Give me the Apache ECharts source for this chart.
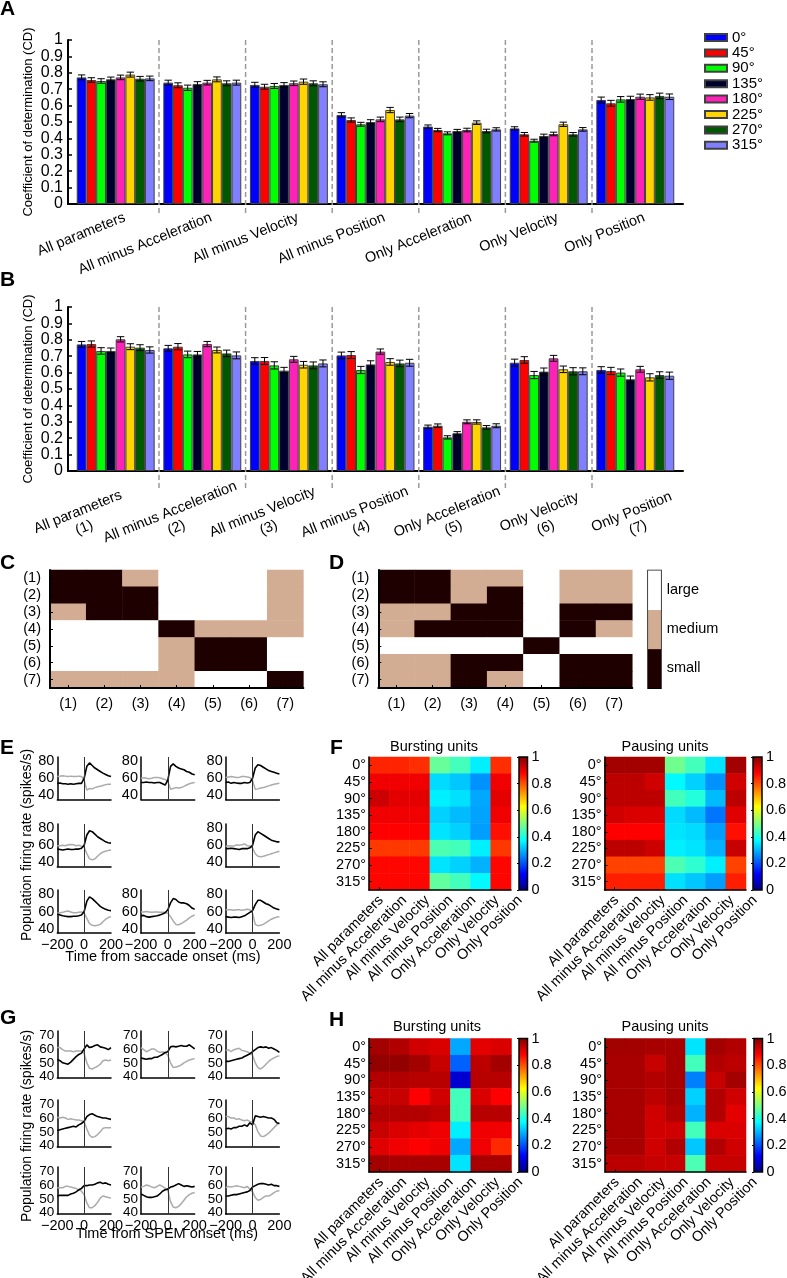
<!DOCTYPE html>
<html>
<head>
<meta charset="utf-8">
<script src="https://cdn.jsdelivr.net/npm/echarts@6.0.0/dist/echarts.min.js"></script>
<style>
html,body{margin:0;padding:0;background:#fff;}
#chart{width:787px;height:1278px;}
</style>
</head>
<body>
<div id="chart"></div>
<script>
// ================= DATA =================
const groupNames = ['All parameters','All minus Acceleration','All minus Velocity','All minus Position','Only Acceleration','Only Velocity','Only Position'];
const groupNums = ['(1)','(2)','(3)','(4)','(5)','(6)','(7)'];
const directions = ['0°','45°','90°','135°','180°','225°','270°','315°'];
const dirColors = ['#0000FF','#FF0000','#00FF00','#00002E','#FF22B8','#FFD400','#005900','#8080FF'];

// Panel A: coefficient of determination, one row per direction, one value per model group
const cdA = [
  [0.772,0.740,0.726,0.543,0.472,0.461,0.634],
  [0.756,0.724,0.715,0.512,0.451,0.425,0.614],
  [0.750,0.709,0.720,0.486,0.431,0.386,0.638],
  [0.760,0.732,0.726,0.500,0.445,0.415,0.640],
  [0.772,0.740,0.736,0.516,0.451,0.427,0.654],
  [0.789,0.760,0.746,0.573,0.496,0.486,0.650],
  [0.764,0.736,0.736,0.516,0.445,0.425,0.659],
  [0.766,0.740,0.730,0.539,0.455,0.455,0.654]
];
const errA = [
  [0.015,0.015,0.016,0.014,0.010,0.010,0.018],
  [0.014,0.015,0.015,0.013,0.010,0.011,0.018],
  [0.014,0.016,0.015,0.012,0.009,0.009,0.017],
  [0.014,0.014,0.014,0.014,0.010,0.011,0.017],
  [0.014,0.014,0.014,0.014,0.011,0.011,0.016],
  [0.015,0.015,0.016,0.016,0.011,0.013,0.017],
  [0.014,0.015,0.015,0.014,0.011,0.011,0.017],
  [0.014,0.015,0.015,0.013,0.010,0.011,0.017]
];
// Panel B
const cdB = [
  [0.772,0.748,0.671,0.705,0.270,0.660,0.616],
  [0.774,0.758,0.671,0.707,0.276,0.677,0.610],
  [0.732,0.711,0.644,0.616,0.205,0.585,0.600],
  [0.732,0.711,0.612,0.650,0.230,0.606,0.559],
  [0.803,0.774,0.681,0.728,0.300,0.687,0.620],
  [0.758,0.738,0.648,0.665,0.299,0.620,0.571],
  [0.752,0.717,0.644,0.656,0.266,0.608,0.585],
  [0.738,0.705,0.656,0.660,0.276,0.608,0.581]
];
const errB = [
  [0.018,0.018,0.020,0.020,0.010,0.022,0.020],
  [0.019,0.019,0.021,0.021,0.011,0.020,0.022],
  [0.020,0.020,0.022,0.022,0.010,0.022,0.022],
  [0.018,0.018,0.020,0.022,0.010,0.022,0.020],
  [0.016,0.016,0.018,0.016,0.012,0.018,0.018],
  [0.018,0.018,0.020,0.020,0.013,0.020,0.022],
  [0.018,0.020,0.021,0.020,0.011,0.022,0.020],
  [0.019,0.021,0.021,0.021,0.012,0.021,0.022]
];

// Panels C / D : effect size matrices (S = small, M = medium, L = large)
const effectC = [
  ['S','S','M','L','L','L','M'],
  ['S','S','S','L','L','L','M'],
  ['M','S','S','L','L','L','M'],
  ['L','L','L','S','M','M','M'],
  ['L','L','L','M','S','S','L'],
  ['L','L','L','M','S','S','L'],
  ['M','M','M','M','L','L','S']
];
const effectD = [
  ['S','S','M','M','L','M','M'],
  ['S','S','M','S','L','M','M'],
  ['M','M','S','S','L','S','S'],
  ['M','S','S','S','L','S','M'],
  ['L','L','L','L','S','L','L'],
  ['M','M','S','S','L','S','S'],
  ['M','M','S','M','L','S','S']
];
const effectLevels = ['small','medium','large'];
const effectColors = ['#1E0000','#D2AC93','#FFFFFF'];

// Panels E / G : population firing rates
const T = [-200,-180,-160,-140,-120,-100,-80,-60,-40,-20,0,20,40,60,80,100,120,140,160,180,200];
const eBlack = [
  [54,54.5,53.5,53.5,53,53.5,53,53.5,54,54,60,74,78,75,72,70,68,66,64.5,63,62],
  [55,55,55.5,55,55,54.5,55,55,53.5,52,58,74,77,74,72,71,70,68,67,65,64],
  [55,55.5,54,55,54.5,54,54,55,54.5,55,60,72,76,75,73,71,69,68,67,66,65],
  [55.5,55,54.5,55,55.5,55,55,55.5,55.5,56.5,60,72,77,76,73,70,68,66,64,63,62.5],
  [56,56,56.5,56,55.5,55,56,56,56,57,60,72,76,74,72,70,68,66,65,64,64],
  [57,56,55,54.5,54,54,54.5,54.5,55,56,60,72,77,75,72,69,66,64,62.5,61.5,61],
  [55,55.5,54,53.5,54,54.5,55,56,57,58.5,62,70,75,74,71,70,70,69,67,64,62.5],
  [54,53.5,53,53.5,53.5,53,54,55,57,59,61,68,73,73,71,69,68,66,64,63,62]
];
const eGray = [
  [62,62.5,63,62.5,62,62.5,62,62,62.5,62,58,46,48,47.5,49,50,50.5,51.5,52.5,53,53],
  [60,60.5,60,59.5,60,61,61,60.5,59.5,58.5,56,47,48,49,48.5,49,50.5,52,53.5,54.5,55],
  [61,61.5,62,61.5,61,61,62,62,61.5,61,57,47,47.5,48.5,49,50,51,52,53,53.5,54],
  [59.5,59.5,60,59.5,60.5,61,60.5,59.5,60,59,58,50,44,43,44,47,50,52,53,54,54],
  [58.5,59.5,59,59,60.5,60,60.5,61.5,59.5,59,57,50,47,46.5,47,48,49,50,51,52,53],
  [58,58.5,59,60,60.5,59.5,58.5,58.5,59,59.5,58,52,46,44,43.5,44,45,48,51,53,54],
  [59.5,59.5,60,59.5,59,59.5,59.5,59,59,59,58,54,49,45,44.5,46,48,50,52.5,54.5,56],
  [62,62,62,61.5,62,62,61.5,62,62.5,62,58,45,43.5,44,45,47,49,51,52.5,53.5,54]
];
const gBlack = [
  [52.5,51.5,50,49.5,49,50.5,52.5,54.5,56,57,60,63,61,61.5,62.5,63,61.5,61,60.5,59.5,61],
  [53.5,53,52.5,53,53,54,54,55,56,57.5,58,61.5,62,61.5,62,62.5,62,62,63,61.5,60],
  [51,51,51.5,52,52.5,53,53.5,54.5,55.5,56.5,58,59.5,61,61.5,61,61.5,60.5,61,60,59,57.5],
  [51,51.5,52,52.5,53,53.5,54,53.5,55,56,57.5,61,62.5,63,62,61,60.5,60,60,59.5,59],
  [52,52.5,52,53,53,54,54,55,54,56.5,55,61.5,61,60.5,61,60.5,60,60,59,56.5,56],
  [52,52.5,52.5,52.5,52.5,53.5,54,55,56.5,57.5,59.5,59.5,60,60,60.5,61.5,62,61,61.5,60.5,60],
  [53.5,52.5,51.5,51,51,51.5,52,53.5,55.5,56.5,57,58.5,59,60,61,60,59,59.5,59,58.5,59],
  [52,52,52.5,53,53,53.5,54,54.5,55,56,58.5,59.5,60.5,61,61,60.5,60,60.5,59.5,59.5,59]
];
const gGray = [
  [61,61,59.5,58.5,58.5,58.5,58,58.5,58.5,58.5,56.5,50,46,45.5,46.5,47.5,49,51.5,52,51.5,52],
  [61,59.5,58,59,60,60,58.5,57.5,58,57,55.5,50,46.5,47,47.5,48.5,50,51,52,52.5,53],
  [59,59.5,58,59.5,60,60.5,59,58.5,58,57,55.5,50,46.5,45.5,47,49,51,52.5,53.5,54.5,55],
  [60.5,60,60.5,60,59,59.5,59,58.5,58.5,58,57.5,52,47.5,46,46.5,48,50,52.5,53,53,53],
  [61,61,60,60,59,59.5,58.5,58,58.5,57.5,57,55,50,47,46.5,47.5,49,51,53,55,56.5],
  [58,58,58,59,59,58.5,58,57.5,56.5,55.5,53,47,43.5,43.5,45,47.5,50.5,52,51.5,51,50.5],
  [58.5,59,60,59.5,58.5,58,59,60,59,57.5,56,48,44,43.5,44.5,46.5,49,51.5,53,54,54.5],
  [58,59,58.5,59,59.5,59,58.5,58,59,57,55,51,49,49.5,51,52,52,53,54.5,55.5,56]
];

// Panels F / H : CD heat maps (rows = directions, columns = model groups)
const fBurst = [
  [0.84,0.84,0.83,0.475,0.44,0.36,0.83],
  [0.89,0.89,0.89,0.34,0.32,0.27,0.89],
  [0.925,0.90,0.90,0.36,0.345,0.29,0.90],
  [0.89,0.89,0.89,0.33,0.31,0.285,0.89],
  [0.875,0.875,0.875,0.35,0.33,0.28,0.86],
  [0.82,0.82,0.82,0.45,0.44,0.36,0.82],
  [0.87,0.87,0.87,0.35,0.33,0.30,0.87],
  [0.87,0.87,0.87,0.47,0.44,0.37,0.87]
];
const fPause = [
  [0.965,0.965,0.965,0.485,0.44,0.35,0.965],
  [0.94,0.94,0.92,0.37,0.33,0.27,0.92],
  [0.94,0.94,0.94,0.44,0.41,0.31,0.94],
  [0.92,0.91,0.91,0.34,0.31,0.24,0.905],
  [0.875,0.875,0.875,0.35,0.34,0.28,0.86],
  [0.94,0.94,0.925,0.36,0.35,0.30,0.93],
  [0.81,0.81,0.81,0.45,0.42,0.36,0.81],
  [0.845,0.845,0.845,0.345,0.32,0.28,0.845]
];
const hBurst = [
  [0.965,0.95,0.92,0.91,0.29,0.90,0.91],
  [0.98,0.98,0.965,0.93,0.22,0.94,0.965],
  [0.95,0.95,0.945,0.945,0.08,0.945,0.945],
  [0.93,0.93,0.875,0.92,0.44,0.91,0.875],
  [0.95,0.95,0.95,0.94,0.44,0.945,0.945],
  [0.93,0.91,0.90,0.89,0.36,0.89,0.89],
  [0.905,0.89,0.875,0.89,0.29,0.89,0.835],
  [0.965,0.96,0.96,0.96,0.35,0.96,0.96]
];
const hPause = [
  [0.965,0.965,0.96,0.96,0.35,0.965,0.95],
  [0.96,0.96,0.93,0.96,0.44,0.95,0.94],
  [0.96,0.96,0.95,0.96,0.25,0.93,0.965],
  [0.96,0.96,0.94,0.96,0.33,0.95,0.92],
  [0.96,0.96,0.92,0.95,0.30,0.95,0.90],
  [0.96,0.96,0.92,0.92,0.44,0.91,0.91],
  [0.96,0.96,0.92,0.95,0.32,0.95,0.92],
  [0.94,0.94,0.93,0.93,0.45,0.93,0.93]
];
const jetColors = ['#00007F','#0000FF','#007FFF','#00FFFF','#7FFF7F','#FFFF00','#FF7F00','#FF0000','#7F0000'];
const colorbarTicks = [0,0.2,0.4,0.6,0.8,1];

// ================= BUILD =================
const FONT = "'Liberation Sans', Arial, Helvetica, sans-serif";
const grids = [], xAxes = [], yAxes = [], series = [], graphics = [];
const heatIdx = [], effIdx = [];
function addGrid(o){ grids.push(Object.assign({show:false, outerBoundsMode:'none'}, o)); return grids.length - 1; }
function addX(o){ xAxes.push(o); return xAxes.length - 1; }
function addY(o){ yAxes.push(o); return yAxes.length - 1; }
const axLine = (w) => ({show:true, onZero:false, lineStyle:{color:'#000', width:w}});
const lbl = (o) => Object.assign({color:'#000', fontSize:14, fontFamily:FONT, showMinLabel:true, showMaxLabel:true, hideOverlap:false}, o);
const textStyle = (t, size, align) => ({text:t, font:size + 'px ' + FONT, fill:'#000', align:align, textAlign:align, verticalAlign:'middle', textVerticalAlign:'middle'});
function txt(x, y, text, o){
  o = o || {};
  const st = textStyle(text, o.size || 14, o.align || 'center');
  if (o.bold) st.font = 'bold ' + (o.size || 14) + 'px ' + FONT;
  graphics.push({type:'text', x:x, y:y, rotation:o.rot || 0, z:100, silent:true, style:st});
}
const ROT22 = 22 * Math.PI / 180;
const ROT45 = 45 * Math.PI / 180;

function barPanel(top, vals, errs, dividerExt, twoLine){
  const H = 164;
  const gF = addGrid({left:68, top:top, width:615, height:H});
  addX({gridIndex:gF, type:'value', min:0, max:1, axisLine:axLine(2), axisTick:{show:false}, axisLabel:{show:false}, splitLine:{show:false}});
  addY({gridIndex:gF, type:'value', min:0, max:1, interval:0.1, axisLine:axLine(2),
    axisTick:{show:true, inside:true, length:4, lineStyle:{color:'#000', width:1.5}},
    axisLabel:lbl({fontSize:16, margin:5, lineHeight:14}), splitLine:{show:false}});
  const gB = addGrid({left:72.4, top:top, width:606.2, height:H});
  const xi = addX({gridIndex:gB, type:'category', data:groupNames, show:false});
  const yi = addY({gridIndex:gB, type:'value', min:0, max:1, show:false});
  vals.forEach((arr, s) => {
    series.push({type:'bar', name:directions[s], xAxisIndex:xi, yAxisIndex:yi, data:arr,
      barGap:'0%', barCategoryGap:'10%', silent:true,
      itemStyle:{color:dirColors[s], borderColor:'#404040', borderWidth:1}});
  });
  const nS = vals.length;
  const errData = [];
  vals.forEach((arr, s) => arr.forEach((v, g) => errData.push([g, s, v, errs[s][g]])));
  series.push({type:'custom', xAxisIndex:xi, yAxisIndex:yi, data:errData, encode:{x:0, y:2}, z:5, silent:true,
    renderItem:function(params, api){
      const g = api.value(0), s = api.value(1), v = api.value(2), e = api.value(3);
      const band = api.size([1, 0])[0];
      const bw = band * 0.9 / nS;
      const c = api.coord([g, v]);
      const x = c[0] - band * 0.45 + (s + 0.5) * bw;
      const yt = api.coord([g, v + e])[1], yb = api.coord([g, v - e])[1];
      const cap = bw * 0.38;
      const st = {stroke:'#000', lineWidth:1};
      return {type:'group', children:[
        {type:'line', shape:{x1:x, y1:yt, x2:x, y2:yb}, style:st},
        {type:'line', shape:{x1:x - cap, y1:yt, x2:x + cap, y2:yt}, style:st},
        {type:'line', shape:{x1:x - cap, y1:yb, x2:x + cap, y2:yb}, style:st}
      ]};
    }});
  // dashed group separators
  const sepData = groupNames.slice(0, -1).map((_, i) => [i, 0]);
  series.push({type:'custom', xAxisIndex:xi, yAxisIndex:yi, data:sepData, encode:{x:0, y:1}, z:1, silent:true, clip:false,
    renderItem:function(params, api){
      const i = params.dataIndex;
      const x = (api.coord([i, 0])[0] + api.coord([i + 1, 0])[0]) / 2;
      const yTop = api.coord([i, 1])[1], yBot = api.coord([i, 0])[1] + dividerExt;
      return {type:'line', shape:{x1:x, y1:yTop, x2:x, y2:yBot}, style:{stroke:'#9a9a9a', lineWidth:1.5, lineDash:[5, 3]}};
    }});
  // category labels
  const labData = groupNames.map((_, i) => [i, 0]);
  if (!twoLine){
    series.push({type:'custom', xAxisIndex:xi, yAxisIndex:yi, data:labData, encode:{x:0, y:1}, silent:true, clip:false,
      renderItem:function(params, api){
        const i = params.dataIndex;
        const p = api.coord([i, 0]);
        return {type:'text', x:p[0] + 9, y:p[1] + 13, rotation:ROT22, style:textStyle(groupNames[i], 14.5, 'right')};
      }});
  } else {
    const gL = addGrid({left:34.85, top:top, width:646.2, height:H});
    const lx = addX({gridIndex:gL, type:'category', data:groupNames, show:false});
    const ly = addY({gridIndex:gL, type:'value', min:0, max:1, show:false});
    series.push({type:'custom', xAxisIndex:lx, yAxisIndex:ly, data:labData, encode:{x:0, y:1}, silent:true, clip:false,
      renderItem:function(params, api){
        const i = params.dataIndex;
        const p = api.coord([i, 0]);
        return {type:'group', x:p[0], y:p[1] + 49, rotation:ROT22, children:[
          {type:'text', x:0, y:-8.5, style:textStyle(groupNames[i], 14.5, 'center')},
          {type:'text', x:0, y:8.5, style:textStyle(groupNums[i], 14.5, 'center')}
        ]};
      }});
  }
}

barPanel(40, cdA, errA, 9, false);
barPanel(307, cdB, errB, 17, true);

// ---- C / D effect-size matrices
function effectPanel(left, width, mat){
  const g = addGrid({left:left, top:570, width:width, height:118});
  const xi = addX({gridIndex:g, type:'category', data:groupNums, position:'bottom', z:10, axisLine:axLine(2),
    axisTick:{show:true, inside:true, alignWithLabel:true, length:3, lineStyle:{color:'#000'}},
    axisLabel:lbl({margin:8, interval:0, fontSize:14.5}), splitLine:{show:false}});
  const yi = addY({gridIndex:g, type:'category', data:groupNums, inverse:true, z:10, axisLine:axLine(2),
    axisTick:{show:true, inside:true, alignWithLabel:true, length:3, lineStyle:{color:'#000'}},
    axisLabel:lbl({margin:9, interval:0, fontSize:14.5, lineHeight:14}), splitLine:{show:false}});
  const d = [];
  mat.forEach((row, r) => row.forEach((c, k) => d.push([k, r, ['S','M','L'].indexOf(c)])));
  series.push({type:'heatmap', xAxisIndex:xi, yAxisIndex:yi, data:d, silent:true});
  effIdx.push(series.length - 1);
}
effectPanel(50, 253.4, effectC);
effectPanel(378.3, 254, effectD);
(function(){
  const g = addGrid({left:648.3, top:570.7, width:12.4, height:117.3, show:true, borderColor:'#000', borderWidth:2, backgroundColor:'transparent'});
  const xi = addX({gridIndex:g, type:'category', data:['k'], show:false});
  const yi = addY({gridIndex:g, type:'category', data:effectLevels, position:'right', axisLine:{show:false}, axisTick:{show:false},
    axisLabel:lbl({margin:6, fontSize:14.5}), splitLine:{show:false}});
  series.push({type:'heatmap', xAxisIndex:xi, yAxisIndex:yi, data:effectLevels.map((_, i) => [0, i, i]), silent:true, z:1});
  effIdx.push(series.length - 1);
})();

// ---- E / G trace panels
const traceCols = [57.3, 141, 225.7];
const tracePos = [[0,0],[0,1],[0,2],[1,0],[1,2],[2,0],[2,1],[2,2]];
function tracePanel(rowTops, rowH, ymin, ymax, yTicks, yFont, blk, gry){
  tracePos.forEach((rc, k) => {
    const r = rc[0], c = rc[1];
    const g = addGrid({left:traceCols[c], top:rowTops[r], width:53.7, height:rowH[r]});
    const xi = addX({gridIndex:g, type:'value', min:-200, max:200, axisLine:axLine(1.5), axisTick:{show:false}, splitLine:{show:false},
      axisLabel:lbl({show:r === 2, customValues:[-200, 0, 200], margin:4, fontSize:14.5, formatter:(v) => String(v).replace('-', '\u2212')})});
    const yi = addY({gridIndex:g, type:'value', min:ymin, max:ymax, axisLine:axLine(1.5), axisTick:{show:false}, splitLine:{show:false},
      axisLabel:lbl({customValues:yTicks, margin:3, fontSize:yFont, lineHeight:11})});
    series.push({type:'line', xAxisIndex:xi, yAxisIndex:yi, data:T.map((t, j) => [t, gry[k][j]]), symbol:'none', silent:true,
      lineStyle:{color:'#ababab', width:1.5},
      markLine:{silent:true, symbol:['none','none'], label:{show:false}, lineStyle:{color:'#333', width:1, type:'solid'}, data:[{xAxis:0}]}});
    series.push({type:'line', xAxisIndex:xi, yAxisIndex:yi, data:T.map((t, j) => [t, blk[k][j]]), symbol:'none', silent:true,
      lineStyle:{color:'#000', width:1.6}});
  });
}
tracePanel([757, 824, 890], [42.5, 42.5, 43], 35, 85, [40, 60, 80], 14.5, eBlack, eGray);
tracePanel([1031, 1100, 1167], [47, 47, 47], 39, 73, [40, 50, 60, 70], 13.5, gBlack, gGray);

// ---- F / H heat maps
function heatPanel(left, top, w, h, data, cbLeft, cbW){
  const g = addGrid({left:left, top:top, width:w, height:h});
  const xi = addX({gridIndex:g, type:'category', data:groupNames, position:'bottom', z:10, axisLine:axLine(1.5),
    axisTick:{show:true, inside:true, alignWithLabel:true, length:3, lineStyle:{color:'#000'}},
    axisLabel:{show:false}, splitLine:{show:false}});
  const yi = addY({gridIndex:g, type:'category', data:directions, inverse:true, z:10, axisLine:axLine(1.5),
    axisTick:{show:true, inside:true, alignWithLabel:true, length:3, lineStyle:{color:'#000'}},
    axisLabel:lbl({interval:0, margin:3, fontSize:14.5, lineHeight:14}), splitLine:{show:false}});
  const d = [];
  data.forEach((row, r) => row.forEach((v, c) => d.push([c, r, v])));
  series.push({type:'heatmap', xAxisIndex:xi, yAxisIndex:yi, data:d, silent:true});
  heatIdx.push(series.length - 1);
  // rotated model labels (spread slightly wider than the columns, as in the figure)
  series.push({type:'custom', xAxisIndex:xi, yAxisIndex:yi, data:groupNames.map((_, i) => [i, 0]), encode:{x:0, y:1},
    silent:true, clip:false,
    renderItem:function(params, api){
      const i = params.dataIndex;
      const cs = params.coordSys;
      const band = cs.width / groupNames.length;
      const x0 = cs.x + band / 2 + 2;
      return {type:'text', x:x0 + i * band * 1.14, y:cs.y + cs.height + 8, rotation:ROT45,
        style:textStyle(groupNames[i], 14.5, 'right')};
    }});
  const gc = addGrid({left:cbLeft, top:top, width:cbW, height:h});
  const cx = addX({gridIndex:gc, type:'value', min:0, max:1, show:false});
  const cy = addY({gridIndex:gc, type:'value', min:0, max:1, position:'right', axisLine:{show:false},
    axisTick:{show:true, inside:true, length:2, customValues:colorbarTicks, lineStyle:{color:'#000'}},
    axisLabel:lbl({customValues:colorbarTicks, margin:4, fontSize:14.5, lineHeight:14}), splitLine:{show:false}});
  series.push({type:'custom', xAxisIndex:cx, yAxisIndex:cy, data:[[0, 0]], silent:true,
    renderItem:function(params, api){
      const p0 = api.coord([0, 0]), p1 = api.coord([1, 1]);
      return {type:'rect', shape:{x:p0[0], y:p1[1], width:p1[0] - p0[0], height:p0[1] - p1[1]},
        style:{stroke:'#000', lineWidth:1.5,
          fill:{type:'linear', x:0, y:1, x2:0, y2:0, colorStops:jetColors.map((c, k) => ({offset:k / (jetColors.length - 1), color:c}))}}};
    }});
}
heatPanel(369, 757, 142, 133, fBurst, 519, 8.5);
heatPanel(604.5, 757, 141.5, 133, fPause, 753, 9);
heatPanel(369, 1038.5, 142.5, 133.5, hBurst, 519, 8.5);
heatPanel(605, 1038.5, 141, 133.5, hPause, 754, 8.5);

// ---- texts
txt(0, 9, 'A', {bold:true, size:21, align:'left'});
txt(0, 280, 'B', {bold:true, size:21, align:'left'});
txt(0, 563, 'C', {bold:true, size:21, align:'left'});
txt(329, 563, 'D', {bold:true, size:21, align:'left'});
txt(0, 748, 'E', {bold:true, size:21, align:'left'});
txt(330, 748, 'F', {bold:true, size:21, align:'left'});
txt(0, 1018, 'G', {bold:true, size:21, align:'left'});
txt(329, 1020, 'H', {bold:true, size:21, align:'left'});
txt(28, 122, 'Coefficient of determination (CD)', {rot:Math.PI / 2, size:13});
txt(28, 389, 'Coefficient of determination (CD)', {rot:Math.PI / 2, size:13});
txt(27, 845, 'Population firing rate (spikes/s)', {rot:Math.PI / 2});
txt(27, 1126, 'Population firing rate (spikes/s)', {rot:Math.PI / 2});
txt(163, 957, 'Time from saccade onset (ms)', {size:14.5});
txt(167, 1234, 'Time from SPEM onset (ms)', {size:14.5});
txt(434, 747, 'Bursting units', {size:14.5});
txt(665, 747, 'Pausing units', {size:14.5});
txt(437, 1027, 'Bursting units', {size:14.5});
txt(665, 1027, 'Pausing units', {size:14.5});

const option = {
  animation:false,
  backgroundColor:'#fff',
  textStyle:{fontFamily:FONT},
  legend:{data:directions, orient:'vertical', left:699, top:25, itemWidth:22, itemHeight:7, itemGap:0.4, icon:'rect',
    selectedMode:false, textStyle:{color:'#000', fontSize:15, lineHeight:14, fontFamily:FONT}},
  grid:grids, xAxis:xAxes, yAxis:yAxes, series:series,
  visualMap:[
    {type:'continuous', min:0, max:1, dimension:2, seriesIndex:heatIdx, inRange:{color:jetColors}, show:false},
    {type:'piecewise', dimension:2, seriesIndex:effIdx, show:false,
      pieces:effectColors.map((c, i) => ({value:i, color:c}))}
  ],
  graphic:{elements:graphics}
};
const chart = echarts.init(document.getElementById('chart'), null, {renderer:'canvas'});
chart.setOption(option);
</script>
</body>
</html>
